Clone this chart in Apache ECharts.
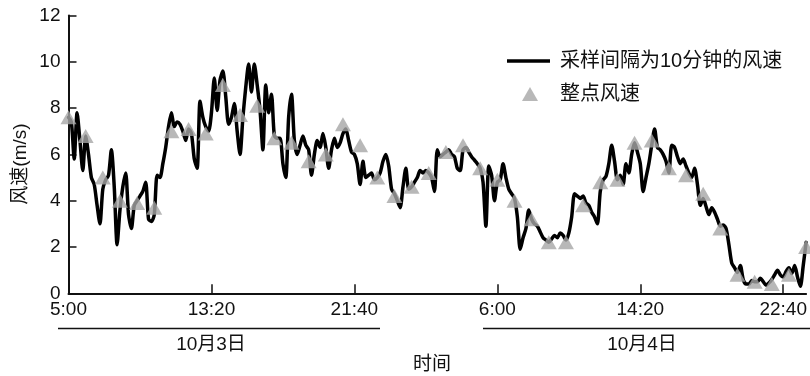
<!DOCTYPE html>
<html>
<head>
<meta charset="utf-8">
<script src="https://cdn.jsdelivr.net/npm/echarts@6/dist/echarts.min.js"></script>
<style>html,body{margin:0;padding:0;background:#fff;}#c{width:810px;height:376px;}</style>
</head>
<body>
<div id="c"></div>
<script>
// minutes since 05:00 on 10/3, one value every 10 minutes
const lineValues = [
  7.6, 7.4, 5.8, 7.8, 6.6, 5.3,
  6.8, 6.0, 5.0, 4.7, 3.8, 3.0,
  4.5, 4.9, 5.1, 6.2, 4.6, 2.1,
  3.6, 4.6, 5.2, 3.4, 2.8, 3.8,
  4.0, 4.2, 4.4, 4.8, 3.2, 3.1,
  3.4, 5.1, 5.0, 5.6, 6.3, 7.2,
  7.8, 7.2, 7.4, 7.3, 7.0, 6.6,
  7.1, 6.9, 5.8, 5.4, 8.3, 7.6,
  7.2, 7.0, 7.8, 9.3, 7.9, 9.2,
  9.6, 8.5, 7.3, 7.6, 8.2, 7.0,
  6.0, 7.6, 8.9, 9.9, 8.7, 9.9,
  9.0, 7.9, 6.2, 9.0, 7.8, 8.6,
  6.8, 6.7, 6.7, 5.6, 5.0, 7.6,
  8.6, 6.6, 6.0, 6.4, 6.8, 6.4,
  6.2, 5.1, 6.0, 6.6, 6.3, 6.9,
  6.3, 5.4, 6.2, 6.7, 6.3, 6.5,
  6.9, 7.1, 6.6, 6.1, 6.0, 5.6,
  4.7, 5.7, 5.0, 5.1, 5.2, 4.9,
  5.0, 5.2, 5.7, 6.0, 5.5, 4.5,
  4.3, 4.0, 3.7, 4.6, 5.4, 4.5,
  4.6, 4.8, 5.0, 5.3, 5.2, 5.3,
  5.2, 5.0, 4.4, 6.2, 5.9, 6.0,
  6.1, 6.2, 6.0, 5.9, 5.4, 5.3,
  6.2, 6.3, 6.1, 5.9, 5.75, 5.6,
  5.4, 4.8, 2.9, 5.5, 5.1, 4.0,
  4.8, 4.9, 5.6, 5.0, 4.5, 4.3,
  4.1, 3.3, 1.9, 2.4, 2.8, 3.6,
  3.2, 3.0, 2.9, 2.65, 2.4, 2.3,
  2.2, 2.35, 2.5, 2.4, 2.6, 2.5,
  2.3, 2.6, 3.3, 4.3, 4.2, 4.1,
  4.2, 3.9, 3.8, 3.5, 3.3, 3.0,
  4.4, 4.9, 5.05, 5.6, 6.4, 5.7,
  4.9, 5.1, 4.7, 5.6, 5.2, 6.0,
  6.5, 6.1, 5.6, 4.4, 5.0, 5.6,
  6.4, 7.1, 6.3, 6.2, 6.0, 5.7,
  5.2, 6.4, 6.3, 5.9, 5.6, 5.8,
  5.5, 5.2, 5.0, 5.4, 4.7, 3.8,
  4.1, 3.75, 3.4, 3.7, 3.5, 3.2,
  2.9, 2.95, 2.8, 2.1, 1.3, 1.1,
  0.9, 1.2, 0.6, 0.4, 0.4, 0.55,
  0.5, 0.5, 0.65, 0.5, 0.35, 0.45,
  0.6, 0.8, 1.0, 0.8, 0.7, 0.95,
  1.1, 0.85, 1.2, 0.7, 0.3, 1.2,
  2.2
];
// hourly values, 05:00 10/3 ... 24:00 10/4
const hourlyValues = [
  7.6, 6.8, 5.0, 4.0, 3.9, 3.7, 7.0, 7.1, 6.9, 9.0,
  7.7, 8.1, 6.7, 6.5, 5.7, 6.0, 7.3, 6.4, 5.0, 4.2,
  4.6, 5.2, 6.1, 6.4, 5.4, 4.9, 4.0, 3.2, 2.2, 2.2,
  3.8, 4.8, 4.9, 6.5, 6.6, 5.4, 5.1, 4.3, 2.8, 0.8,
  0.5, 0.4, 0.8, 2.0
];
const tickMinutes = [0, 500, 1000, 1500, 2000, 2500];
const tickLabels = ['5:00', '13:20', '21:40', '6:00', '14:20', '22:40'];
const seriesNames = ['采样间隔为10分钟的风速', '整点风速'];
const dayLabels = ['10月3日', '10月4日'];

const FONT = 'Liberation Sans, Arial, Noto Sans CJK SC, sans-serif';
const lineData = lineValues.map((v, i) => [i * 10, v]);
const hourData = hourlyValues.map((v, i) => [i * 60, v]);
const legendText = { fontSize: 20, color: '#111', fontFamily: FONT };

const chart = echarts.init(document.getElementById('c'));
chart.setOption({
  animation: false,
  backgroundColor: '#fff',
  grid: { left: 68.5, right: 1.3, top: 15.5, bottom: 82.7 },
  legend: [
    {
      left: 502, top: 46,
      icon: 'rect', itemWidth: 43, itemHeight: 3.5,
      textStyle: Object.assign({ padding: [0, 0, 0, 5] }, legendText),
      data: [seriesNames[0]]
    },
    {
      left: 517, top: 79,
      icon: 'triangle', itemWidth: 16, itemHeight: 14,
      textStyle: Object.assign({ padding: [0, 0, 0, 17] }, legendText),
      data: [seriesNames[1]]
    }
  ],
  xAxis: {
    type: 'value', min: 0, max: 2580, interval: 500,
    axisLine: { lineStyle: { color: '#111', width: 2 } },
    axisTick: { inside: true, length: 9, lineStyle: { color: '#111', width: 1.5 }, customValues: tickMinutes },
    axisLabel: {
      fontSize: 19, color: '#111', fontFamily: FONT, margin: 7,
      customValues: tickMinutes,
      formatter: (v) => tickLabels[tickMinutes.indexOf(v)] || ''
    },
    splitLine: { show: false }
  },
  yAxis: {
    type: 'value', min: 0, max: 12, interval: 2,
    axisLine: { show: true, lineStyle: { color: '#111', width: 2 } },
    axisTick: { show: true, inside: true, length: 8, lineStyle: { color: '#111', width: 1.5 } },
    axisLabel: { fontSize: 19, color: '#111', fontFamily: FONT, margin: 8 },
    splitLine: { show: false }
  },
  series: [
    {
      name: seriesNames[0], type: 'line', data: lineData,
      symbol: 'none', smooth: 0.25,
      lineStyle: { color: '#000', width: 3.5, join: 'round', cap: 'round' },
      itemStyle: { color: '#000' },
      z: 2
    },
    {
      name: seriesNames[1], type: 'scatter', data: hourData,
      symbol: 'triangle', symbolSize: [16, 14],
      itemStyle: { color: '#a6a6a6' },
      z: 3
    }
  ],
  graphic: [
    { type: 'line', shape: { x1: 58, y1: 328.5, x2: 380, y2: 328.5 }, style: { stroke: '#111', lineWidth: 1.5 } },
    { type: 'line', shape: { x1: 483, y1: 328.5, x2: 812, y2: 328.5 }, style: { stroke: '#111', lineWidth: 1.5 } },
    { type: 'text', x: 211, y: 345, style: { text: dayLabels[0], fontSize: 19, fill: '#111', fontFamily: FONT, textAlign: 'center', textVerticalAlign: 'middle' } },
    { type: 'text', x: 642, y: 345, style: { text: dayLabels[1], fontSize: 19, fill: '#111', fontFamily: FONT, textAlign: 'center', textVerticalAlign: 'middle' } },
    { type: 'text', x: 432, y: 365, style: { text: '时间', fontSize: 19, fill: '#111', fontFamily: FONT, textAlign: 'center', textVerticalAlign: 'middle' } },
    { type: 'text', x: 21, y: 164, rotation: Math.PI / 2, style: { text: '风速(m/s)', fontSize: 19, fill: '#111', fontFamily: FONT, textAlign: 'center', textVerticalAlign: 'middle' } }
  ]
});
</script>
</body>
</html>
